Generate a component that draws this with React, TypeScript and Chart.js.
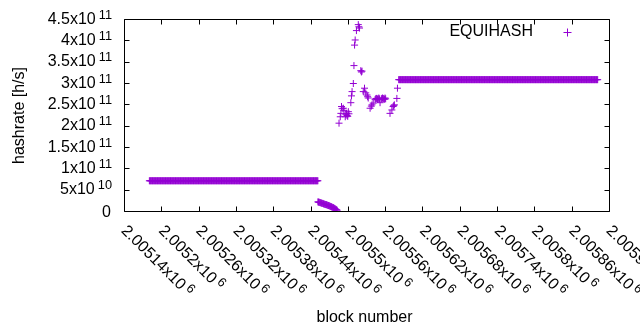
import React, { useEffect, useRef } from "react";
import { Chart, registerables } from "chart.js";

Chart.register(...registerables);

const SERIES_NAME = "EQUIHASH";
const X_TITLE = "block number";
const Y_TITLE = "hashrate [h/s]";
const COLOR = "#9400D3";

// Flat runs: one point on every block from start to end at a constant value
const runStarts = [2005180, 2005581];
const runEnds = [2005451, 2005901];
const runValues = [7.2e10, 3.09e11];

// Falling segment just after the first run
const dropBlocks = [
  2005451, 2005452, 2005453, 2005454, 2005455, 2005456, 2005457, 2005458,
  2005459, 2005460, 2005461, 2005462, 2005463, 2005464, 2005465, 2005466,
  2005467, 2005468, 2005469, 2005470, 2005471, 2005472, 2005473, 2005474,
  2005475, 2005476, 2005477, 2005478, 2005479, 2005480, 2005481, 2005482,
];
const dropValues = [
  2.25e10, 2.2e10, 2.2e10, 2.1e10, 2.05e10, 2.05e10, 1.95e10, 1.9e10,
  1.9e10, 1.8e10, 1.75e10, 1.7e10, 1.65e10, 1.6e10, 1.6e10, 1.5e10,
  1.45e10, 1.4e10, 1.35e10, 1.3e10, 1.2e10, 1.15e10, 1.1e10, 1.0e10,
  9.5e9, 9.0e9, 8.0e9, 7.0e9, 6.0e9, 5.0e9, 4.0e9, 3.0e9,
];

// Scattered points between the two runs
const scatterBlocks = [
  2005485, 2005487, 2005488, 2005489, 2005490, 2005492, 2005493, 2005495,
  2005496, 2005497, 2005498, 2005499, 2005500, 2005501, 2005504, 2005505,
  2005506, 2005508, 2005509, 2005510, 2005511, 2005513, 2005516, 2005517,
  2005518, 2005520, 2005521, 2005522, 2005524, 2005526, 2005528, 2005530,
  2005531, 2005532, 2005535, 2005537, 2005538, 2005540, 2005543, 2005544,
  2005545, 2005546, 2005547, 2005548, 2005549, 2005550, 2005551, 2005553,
  2005554, 2005555, 2005556, 2005557, 2005558, 2005559, 2005560, 2005567,
  2005570, 2005572, 2005573, 2005574, 2005578, 2005579,
];
const scatterValues = [
  2.07e11, 2.22e11, 2.3e11, 2.46e11, 2.41e11, 2.42e11, 2.37e11, 2.22e11,
  2.27e11, 2.3e11, 2.25e11, 2.23e11, 2.34e11, 2.29e11, 2.55e11, 2.71e11,
  2.81e11, 3.0e11, 3.42e11, 3.9e11, 4.02e11, 4.24e11, 4.38e11, 4.33e11,
  4.3e11, 3.3e11, 3.27e11, 3.29e11, 2.81e11, 2.89e11, 2.78e11, 2.73e11,
  2.69e11, 2.66e11, 2.42e11, 2.47e11, 2.5e11, 2.54e11, 2.62e11, 2.64e11,
  2.65e11, 2.65e11, 2.63e11, 2.64e11, 2.66e11, 2.64e11, 2.55e11, 2.64e11,
  2.65e11, 2.66e11, 2.64e11, 2.65e11, 2.63e11, 2.66e11, 2.64e11, 2.3e11,
  2.38e11, 2.46e11, 2.48e11, 2.5e11, 2.65e11, 2.89e11,
];

const X_MIN = 2005140;
const X_MAX = 2005920;
const xTickValues = [
  2005140, 2005200, 2005260, 2005320, 2005380, 2005440, 2005500,
  2005560, 2005620, 2005680, 2005740, 2005800, 2005860, 2005920,
];
const xTickLabels = [
  "2.00514x10", "2.0052x10", "2.00526x10", "2.00532x10", "2.00538x10",
  "2.00544x10", "2.0055x10", "2.00556x10", "2.00562x10", "2.00568x10",
  "2.00574x10", "2.0058x10", "2.00586x10", "2.00592x10",
];
const xTickExp = "6";

const Y_MIN = 0;
const Y_MAX = 4.5e11;
const yTickValues = [0, 5e10, 1e11, 1.5e11, 2e11, 2.5e11, 3e11, 3.5e11, 4e11, 4.5e11];
const yTickLabels = ["0", "5x10", "1x10", "1.5x10", "2x10", "2.5x10", "3x10", "3.5x10", "4x10", "4.5x10"];
const yTickExps = ["", "10", "11", "11", "11", "11", "11", "11", "11", "11"];

const FONT = '"Liberation Sans", Arial, sans-serif';

function buildPoints() {
  const pts: { x: number; y: number }[] = [];
  for (let r = 0; r < runStarts.length; r++) {
    for (let b = runStarts[r]; b <= runEnds[r]; b++) pts.push({ x: b, y: runValues[r] });
  }
  dropBlocks.forEach((b, i) => pts.push({ x: b, y: dropValues[i] }));
  scatterBlocks.forEach((b, i) => pts.push({ x: b, y: scatterValues[i] }));
  return pts;
}

const framePlugin = {
  id: "gnuplotFrame",
  afterDatasetsDraw(chart: any) {
    const { ctx, chartArea, scales } = chart;
    const xs = scales.x;
    const ys = scales.y;
    const L = Math.floor(chartArea.left) + 0.5;
    const R = Math.floor(chartArea.right) + 0.5;
    const T = Math.floor(chartArea.top) + 0.5;
    const B = Math.floor(chartArea.bottom) + 0.5;
    ctx.save();
    ctx.strokeStyle = "#000";
    ctx.lineWidth = 1;
    ctx.beginPath();
    ctx.rect(L, T, R - L, B - T);
    // ticks
    const tl = 5;
    xTickValues.forEach((v) => {
      const px = Math.floor(xs.getPixelForValue(v)) + 0.5;
      ctx.moveTo(px, B);
      ctx.lineTo(px, B - tl);
      ctx.moveTo(px, T);
      ctx.lineTo(px, T + tl);
    });
    yTickValues.forEach((v) => {
      const py = Math.floor(ys.getPixelForValue(v)) + 0.5;
      ctx.moveTo(L, py);
      ctx.lineTo(L + tl, py);
      ctx.moveTo(R, py);
      ctx.lineTo(R - tl, py);
    });
    ctx.stroke();

    ctx.fillStyle = "#000";
    const base = "16px " + FONT;
    const sup = "12.8px " + FONT;

    // y labels
    const yRight = 112;
    yTickValues.forEach((v, i) => {
      const py = ys.getPixelForValue(v);
      const exp = yTickExps[i];
      ctx.textBaseline = "alphabetic";
      if (!exp) {
        ctx.font = base;
        ctx.textAlign = "right";
        ctx.fillText(yTickLabels[i], yRight - 1, py + 5.5);
        return;
      }
      ctx.font = sup;
      const ws = ctx.measureText(exp).width;
      ctx.textAlign = "left";
      ctx.fillText(exp, yRight - ws, py - 1);
      ctx.font = base;
      ctx.textAlign = "right";
      ctx.fillText(yTickLabels[i], yRight - ws - 3, py + 4);
    });

    // x labels, rotated
    xTickValues.forEach((v, i) => {
      const px = xs.getPixelForValue(v);
      ctx.save();
      ctx.translate(px, B + 16);
      ctx.rotate(Math.PI / 4);
      ctx.textAlign = "left";
      ctx.textBaseline = "alphabetic";
      ctx.font = base;
      ctx.fillText(xTickLabels[i], 0, 5.5);
      const w = ctx.measureText(xTickLabels[i]).width;
      ctx.font = sup;
      ctx.fillText(xTickExp, w + 3, 0.5);
      ctx.restore();
    });

    // axis titles
    ctx.font = base;
    ctx.textAlign = "center";
    ctx.textBaseline = "alphabetic";
    ctx.fillText(X_TITLE, 364.5, 321.5);
    ctx.save();
    ctx.translate(23.5, (T + B) / 2);
    ctx.rotate(-Math.PI / 2);
    ctx.fillText(Y_TITLE, 0, 0);
    ctx.restore();

    // legend
    ctx.textAlign = "right";
    ctx.textBaseline = "middle";
    ctx.fillText(SERIES_NAME, 533, 32);
    ctx.strokeStyle = COLOR;
    ctx.beginPath();
    ctx.moveTo(563.5, 32.5);
    ctx.lineTo(571.5, 32.5);
    ctx.moveTo(567.5, 28.5);
    ctx.lineTo(567.5, 36.5);
    ctx.stroke();
    ctx.restore();
  },
};

export default function App() {
  const ref = useRef<HTMLCanvasElement | null>(null);
  useEffect(() => {
    document.body.style.margin = "0";
    const canvas = ref.current;
    if (!canvas) return;
    const chart = new Chart(canvas, {
      type: "scatter",
      data: {
        datasets: [
          {
            label: SERIES_NAME,
            data: buildPoints(),
            pointStyle: "cross",
            pointRadius: 3.5,
            pointBorderWidth: 1,
            borderColor: COLOR,
            backgroundColor: COLOR,
            showLine: false,
          } as any,
        ],
      },
      options: {
        responsive: false,
        animation: false,
        layout: { padding: { left: 124.5, right: 30.5, top: 19.5, bottom: 118.5 } },
        scales: {
          x: { type: "linear", min: X_MIN, max: X_MAX, display: false },
          y: { type: "linear", min: Y_MIN, max: Y_MAX, display: false },
        },
        plugins: {
          legend: { display: false },
          tooltip: { enabled: false },
        },
        events: [],
      },
      plugins: [framePlugin],
    });
    return () => chart.destroy();
  }, []);
  return (
    <div style={{ width: 640, height: 330, background: "#fff" }}>
      <canvas ref={ref} width={640} height={330} style={{ display: "block", width: 640, height: 330 }} />
    </div>
  );
}
